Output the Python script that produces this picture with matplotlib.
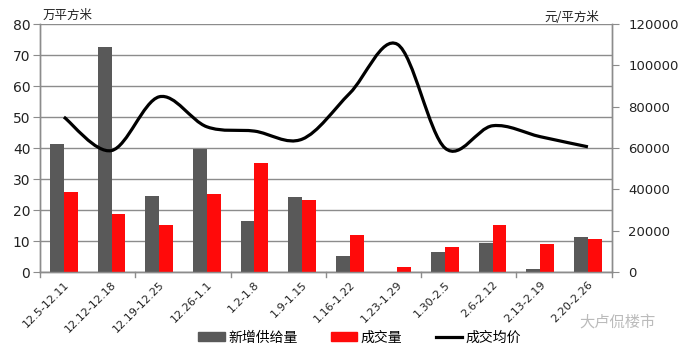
import matplotlib.pyplot as plt
import numpy as np
from matplotlib.path import Path
from matplotlib.patches import PathPatch
from matplotlib.lines import Line2D

plt.rcParams['font.family'] = ['DejaVu Sans', 'Noto Sans CJK SC']
CJK = ['Noto Sans CJK SC', 'DejaVu Sans']

weeks = ["12.5-12.11", "12.12-12.18", "12.19-12.25", "12.26-1.1", "1.2-1.8",
         "1.9-1.15", "1.16-1.22", "1.23-1.29", "1.30-2.5", "2.6-2.12",
         "2.13-2.19", "2.20-2.26"]
supply = [41.3, 72.6, 24.6, 39.8, 16.5, 24.3, 5.2, 0, 6.5, 9.5, 1.0, 11.3]
deals = [25.9, 18.8, 15.3, 25.2, 35.2, 23.3, 11.9, 1.7, 8.1, 15.2, 9.0, 10.6]
price = [75000, 58800, 84800, 70300, 68200, 64300, 86500, 110200, 60000,
         70800, 65500, 60600]

GRAY = '#595959'
RED = '#ff0a0a'
AXC = '#8c8c8c'
TXT = '#222222'


def smooth_path(xs, ys):
    # Excel style smoothed line: Catmull-Rom segments as cubic Bezier
    pts = np.column_stack([xs, ys]).astype(float)
    n = len(pts)
    verts = [pts[0]]
    codes = [Path.MOVETO]
    for i in range(n - 1):
        p0 = pts[max(i - 1, 0)]
        p1 = pts[i]
        p2 = pts[i + 1]
        p3 = pts[min(i + 2, n - 1)]
        c1 = p1 + (p2 - p0) / 6
        c2 = p2 - (p3 - p1) / 6
        verts += [c1, c2, p2]
        codes += [Path.CURVE4] * 3
    return Path(verts, codes)


def main():
    fig = plt.figure(figsize=(6.79, 3.48), dpi=100)
    ax = fig.add_axes([0.059, 0.218, 0.842, 0.713])
    ax2 = ax.twinx()

    x = np.arange(len(weeks))
    w = 0.29
    ax.bar(x - w / 2, supply, w, color=GRAY, zorder=3)
    ax.bar(x + w / 2, deals, w, color=RED, zorder=3)

    ax.set_xlim(-0.5, len(weeks) - 0.5)
    ax.set_ylim(0, 80)
    ax.set_yticks(range(0, 81, 10))
    ax.yaxis.grid(True, color=AXC, lw=1)
    ax.set_axisbelow(True)

    ax.set_xticks(x)
    ax.set_xticklabels(weeks, rotation=45, ha='right', rotation_mode='anchor',
                       fontsize=8, color=TXT)
    ax.tick_params(axis='x', length=0, pad=5)
    # tick marks every second boundary
    for b in np.arange(-0.5, len(weeks), 2):
        ax.plot([b, b], [0, -1.6], color=AXC, lw=1, clip_on=False, zorder=1)

    ax.tick_params(axis='y', length=5, color=AXC, labelsize=10,
                   labelcolor=TXT, pad=2)

    ax2.set_ylim(0, 120000)
    ax2.set_yticks(range(0, 120001, 20000))
    ax2.tick_params(axis='y', length=5, color=AXC, labelsize=9.5,
                    labelcolor=TXT, pad=7)
    ax2.add_patch(PathPatch(smooth_path(x, price), fill=False,
                            edgecolor='black', lw=2.3, zorder=4))

    for a in (ax, ax2):
        a.spines['top'].set_visible(False)
        for s in ('left', 'right', 'bottom'):
            a.spines[s].set_color(AXC)
            a.spines[s].set_linewidth(1)

    fig.text(0.062, 0.955, '万平方米', fontsize=9, color=TXT, va='center',
             family=CJK)
    fig.text(0.802, 0.95, '元/平方米', fontsize=9, color=TXT, va='center',
             family=CJK)

    handles = [
        plt.Rectangle((0, 0), 1, 1, color=GRAY),
        plt.Rectangle((0, 0), 1, 1, color=RED),
        Line2D([0], [0], color='black', lw=2.3),
    ]
    fig.legend(handles, ['新增供给量', '成交量', '成交均价'], loc='center',
               bbox_to_anchor=(0.53, 0.03), ncol=3, frameon=False,
               prop={'family': CJK, 'size': 10}, handlelength=1.9,
               handleheight=0.6, columnspacing=2.4, handletextpad=0.25)

    fig.text(0.965, 0.075, '大卢侃楼市', fontsize=11, color='#bbbbbb',
             ha='right', va='center', family=CJK)

    fig.savefig('out.png', dpi=100)


if __name__ == "__main__":
    main()
